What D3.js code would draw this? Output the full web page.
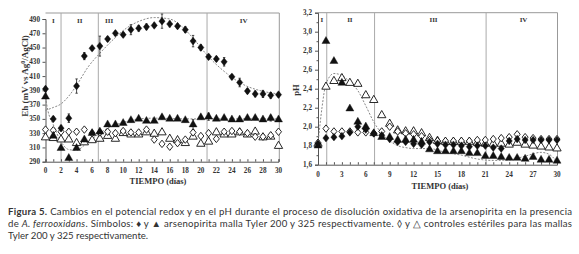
<!DOCTYPE html>
<html><head><meta charset="utf-8">
<script src="https://cdn.jsdelivr.net/npm/d3@7/dist/d3.min.js"></script>
<style>
html,body{margin:0;padding:0;background:#fff;}
svg{display:block;}
.tk{font-family:"Liberation Serif","DejaVu Serif",serif;font-weight:bold;fill:#333;}
.cap{font-family:Lato,"Open Sans",sans-serif;fill:#333;}
</style>
</head><body>
<svg id="c" width="579" height="254"></svg>
<script>
// ---------- DATA ----------
const days = d3.range(0, 31);
// Eh (mV vs Ag0/AgCl)
const ehFilledDiamond = [392,350,337,351,396,438,449,452,462,470,468,475,477,479,481,487,483,480,475,459,450,437,434,430,409,401,389,385,385,383,384];
const ehFilledDiamondErr = [3,3,4,6,10,5,3,14,3,3,3,7,4,4,3,10,4,3,4,8,4,3,3,6,3,6,3,4,5,4,3];
const ehFilledTriangle = [381,326,309,295,309,321,330,332,342,342,344,348,350,347,347,352,350,350,348,342,352,353,350,351,349,349,351,351,349,351,349];
const ehFilledTriangleErr = [2,2,2,2,2,3,2,3,2,2,2,2,2,2,2,2,2,2,2,7,2,5,2,2,2,2,2,2,2,4,2];
const ehOpenDiamond = [335,334,332,332,332,335,330,331,332,330,333,331,331,335,321,315,311,316,321,331,326,330,322,332,333,332,330,325,325,327,332];
const ehOpenTriangle = [324,323,321,321,316,317,320,322,326,322,330,328,328,331,329,331,322,320,316,325,315,318,331,328,328,331,328,332,324,325,312];
// fitted (dashed) curves: [day, value]
const ehFitDiamond = [[0,362],[1,366],[2,371],[3,382],[4,397],[5.5,423],[7,442],[8.7,461],[10.4,477],[12.1,487],[14,492],[16,490],[17.7,478],[19,463],[21,437],[23.3,414],[25.5,398],[27.5,390],[30,385]];
const ehFitTriangle = [[0,380],[0.3,362],[1,342],[2,318],[3,307],[4,306],[5,313],[6,322],[7,330],[8,337],[10,345],[12,350],[14,351],[18,350],[22,350],[26,350],[30,350]];
// pH
const phFilledDiamond = [1.82,1.88,1.89,1.90,1.94,2.00,1.97,1.93,1.91,1.87,1.84,1.84,1.82,1.81,1.84,1.82,1.81,1.81,1.80,1.79,1.80,1.80,1.78,1.77,1.85,1.87,1.86,1.86,1.86,1.86,1.86];
const phFilledTriangle = [1.80,2.90,2.69,2.46,2.19,2.05,2.00,1.93,1.89,1.89,1.86,1.86,1.86,1.84,1.76,1.74,1.74,1.74,1.74,1.72,1.72,1.69,1.69,1.68,1.67,1.67,1.66,1.68,1.65,1.65,1.64];
const phOpenDiamond = [1.83,1.98,1.95,1.95,1.95,1.94,1.94,1.93,1.95,2.00,1.95,1.93,1.92,1.90,1.86,1.85,1.85,1.85,1.85,1.85,1.86,1.86,1.87,1.88,1.89,1.92,1.89,1.88,1.87,1.87,1.87];
const phOpenTriangle = [1.82,2.42,2.48,2.51,2.46,2.45,2.33,2.28,2.12,2.03,1.96,1.95,1.95,1.93,1.88,1.85,1.84,1.84,1.84,1.84,1.83,1.82,1.82,1.82,1.81,1.83,1.81,1.80,1.79,1.78,1.77];
const phFit = [[0,1.82],[0.5,2.2],[1,2.45],[2,2.56],[3,2.54],[4,2.47],[5,2.38],[6,2.22],[7,2.05],[8,1.93],[9,1.85],[10,1.80],[11,1.78],[12,1.77],[14,1.77],[16,1.73],[18,1.70],[20,1.66],[22,1.645],[24,1.65],[26,1.69],[28,1.73],[29,1.71],[30,1.63]];
// phases
const ehPhaseLines = [2, 6.8, 20.8];
const ehPhaseLabels = [["I",1.0],["II",4.4],["III",8.2],["IV",25.5]];
const phPhaseLines = [1.1, 7.1, 21.1];
const phPhaseLabels = [["I",0.5],["II",4.0],["III",14.5],["IV",25.8]];
const ehTicks = d3.range(290, 491, 20);
const ehXTicks = d3.range(0, 31, 2);
const phTicks = [1.6,1.8,2.0,2.2,2.4,2.6,2.8,3.0,3.2];
const phXTicks = d3.range(0, 31, 3);
const captionLines = [
  [["Figura 5.", "bold"], [" Cambios en el potencial redox y en el pH durante el proceso de disolución oxidativa de la arsenopirita en la presencia", "normal"]],
  [["de ", "normal"], ["A. ferrooxidans", "italic"], [". Símbolos: ♦ y ▲ arsenopirita malla Tyler 200 y 325 respectivamente. ◊ y △ controles estériles para las mallas", "normal"]],
  [["Tyler 200 y 325 respectivamente.", "normal"]]
];

// ---------- DRAW ----------
const svg = d3.select("#c");
const diamondType = {draw(ctx, size){ const w = Math.sqrt(size)*0.55, h = Math.sqrt(size)*0.68; ctx.moveTo(0,-h); ctx.lineTo(w,0); ctx.lineTo(0,h); ctx.lineTo(-w,0); ctx.closePath(); }};
const symDiamond = d3.symbol(diamondType, 32);
const symDiamondOpen = d3.symbol(diamondType, 30);
const symTri = d3.symbol(d3.symbolTriangle, 28);
const symTriOpen = d3.symbol(d3.symbolTriangle, 30);

function panel(o){
  const g = svg.append("g");
  const x = d3.scaleLinear().domain([0,30]).range([o.x0, o.x1]);
  const y = d3.scaleLinear().domain(o.ydom).range([o.y0, o.y1]);
  const left = o.x0, right = o.x1 + o.padR, top = o.top, bottom = o.y0;
  g.append("path").attr("d", `M${left},${top}H${right}V${bottom}`).attr("fill","none").attr("stroke","#999").attr("stroke-width",1);
  g.selectAll(".ph").data(o.lines).join("line").attr("x1",d=>x(d)).attr("x2",d=>x(d)).attr("y1",top).attr("y2",bottom).attr("stroke","#aaa").attr("stroke-width",1);
  g.selectAll(".pl").data(o.labels).join("text").attr("class","tk").attr("x",d=>x(d[1])).attr("y",top+9.5).attr("text-anchor","middle").attr("font-size",7).text(d=>d[0]);
  const xa = g.append("g").attr("transform",`translate(0,${bottom})`).call(d3.axisBottom(x).tickValues(days).tickSize(-2.5).tickFormat(""));
  const ya = g.append("g").attr("transform",`translate(${left},0)`).call(d3.axisLeft(y).tickValues(o.yticks).tickSize(3).tickFormat(""));
  [xa,ya].forEach(a=>{a.select(".domain").attr("stroke","#555"); a.selectAll("line").attr("stroke","#555");});
  if (o.yminor) g.append("g").attr("transform",`translate(${left},0)`).call(d3.axisLeft(y).tickValues(o.yminor).tickSize(1.5).tickFormat("")).call(a=>{a.select(".domain").remove();a.selectAll("line").attr("stroke","#555");});
  g.selectAll(".xl").data(o.xticks).join("text").attr("class","tk").attr("x",d=>x(d)).attr("y",bottom+o.xlabDy).attr("text-anchor","middle").attr("font-size",7.2).text(d=>d);
  g.selectAll(".yl").data(o.yticks).join("text").attr("class","tk").attr("x",left-o.ylabDx).attr("y",d=>y(d)+2.5).attr("text-anchor","end").attr("font-size",7.2).text(o.yfmt);
  g.append("text").attr("class","tk").attr("x",o.xtitleX).attr("y",bottom+o.xtitleDy).attr("text-anchor","middle").attr("font-size",8.5).text("TIEMPO (días)");
  g.append("text").attr("class","tk").attr("transform",`translate(${o.ytitleX},${o.ytitleY}) rotate(-90)`).attr("text-anchor","middle").attr("font-size",o.ytitleSize).html(o.ytitle);
  const line = d3.line().x(d=>x(d[0])).y(d=>y(d[1])).curve(d3.curveMonotoneX);
  o.fits.forEach(f=> g.append("path").attr("d", line(f)).attr("fill","none").attr("stroke","#888").attr("stroke-width",1).attr("stroke-dasharray","2,1.5"));
  o.series.forEach(s=>{
    const sg = g.append("g");
    if (s.err) sg.selectAll("path.e").data(s.v).join("path").attr("class","e")
      .attr("d",(d,i)=>{const xx=x(i), a=y(d+s.err[i]), b=y(d-s.err[i]); return `M${xx},${a}V${b}M${xx-1.2},${a}H${xx+1.2}M${xx-1.2},${b}H${xx+1.2}`;})
      .attr("stroke","#222").attr("stroke-width",0.8).attr("fill","none");
    sg.selectAll("path.m").data(s.v).join("path").attr("class","m")
      .attr("transform",(d,i)=>`translate(${x(i)},${y(d)})`).attr("d", s.sym)
      .attr("fill", s.open ? "#fff" : "#111").attr("stroke","#111").attr("stroke-width", s.open ? 0.9 : 0.4);
  });
}

panel({x0:45.5, x1:278.5, padR:0.8, top:13, ydom:[290,490], y0:161.7, y1:19,
  lines: ehPhaseLines, labels: ehPhaseLabels, yticks: ehTicks, xticks: ehXTicks, yminor:null,
  xlabDy:11.5, ylabDx:5.5, yfmt:d=>d, xtitleX:158, xtitleDy:22.5,
  ytitleX:27.5, ytitleY:76, ytitleSize:9, ytitle:"Eh (mV vs Ag<tspan dy='-3' font-size='6'>0</tspan><tspan dy='3'>/AgCl)</tspan>",
  fits:[ehFitDiamond, ehFitTriangle],
  series:[
    {v:ehOpenTriangle, sym:symTriOpen, open:true},
    {v:ehOpenDiamond, sym:symDiamondOpen, open:true},
    {v:ehFilledTriangle, sym:symTri, open:false, err:ehFilledTriangleErr},
    {v:ehFilledDiamond, sym:symDiamond, open:false, err:ehFilledDiamondErr}
  ]});

panel({x0:318, x1:557, padR:0.5, top:12.7, ydom:[1.6,3.2], y0:164.7, y1:12.7,
  lines: phPhaseLines, labels: phPhaseLabels, yticks: phTicks, xticks: phXTicks, yminor:d3.range(1.7,3.2,0.2),
  xlabDy:11.8, ylabDx:6, yfmt:d=>d3.format(".1f")(d).replace(".",","), xtitleX:440, xtitleDy:24.5,
  ytitleX:299, ytitleY:90, ytitleSize:8.5, ytitle:"pH",
  fits:[phFit],
  series:[
    {v:phOpenTriangle, sym:symTriOpen, open:true},
    {v:phOpenDiamond, sym:symDiamondOpen, open:true},
    {v:phFilledTriangle, sym:symTri, open:false},
    {v:phFilledDiamond, sym:symDiamond, open:false}
  ]});

// caption
const capY = [215, 227, 239];
captionLines.forEach((ln,i)=>{
  const t = svg.append("text").attr("class","cap").attr("x",8).attr("y",capY[i]).attr("font-size",9.6);
  if (i < 2) t.attr("textLength", 564).attr("lengthAdjust","spacing");
  ln.forEach(p=>{
    const ts = t.append("tspan").text(p[0]);
    if (p[1]==="bold") ts.attr("font-weight","bold");
    if (p[1]==="italic") ts.attr("font-style","italic");
  });
});
</script>
</body></html>
